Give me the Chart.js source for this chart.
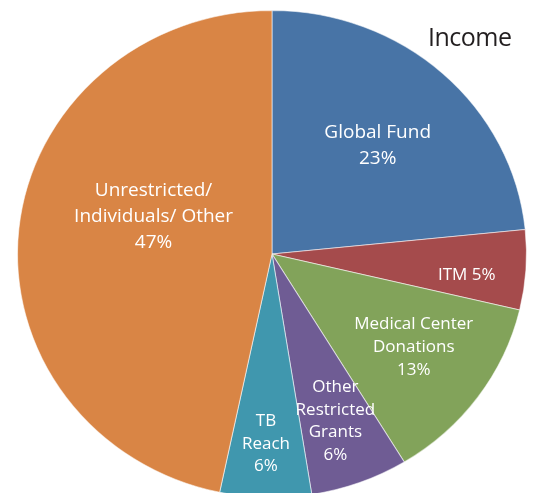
<!DOCTYPE html>
<html>
<head>
<meta charset="utf-8">
<script src="https://cdn.jsdelivr.net/npm/chart.js@4/dist/chart.umd.min.js"></script>
<style>
  html, body { margin: 0; padding: 0; background: #fff; overflow: hidden; }
  #wrap { position: relative; width: 537px; height: 510px; }
  #title {
    position: absolute; left: 428px; top: 19px;
    font: 25px "Open Sans", sans-serif; color: #231f20; letter-spacing: -0.5px;
  }
</style>
</head>
<body>
<div id="wrap">
  <canvas id="c" width="537" height="510"></canvas>
  <div id="title">Income</div>
</div>
<script>
  // данные (доли в %, подписи округлены)
  const categories = ["Global Fund", "ITM", "Medical Center Donations", "Other Restricted Grants", "TB Reach", "Unrestricted/ Individuals/ Other"];
  const values = [23.4, 5.3, 12.6, 6.2, 5.8, 46.7];
  const labelLines = [
    ["Global Fund"],
    null, // ITM на одной строке
    ["Medical Center", "Donations"],
    ["Other", "Restricted", "Grants"],
    ["TB", "Reach"],
    ["Unrestricted/", "Individuals/ Other"],
  ];
  const colors = ["#4874a6", "#a54b4c", "#82a35a", "#6f5c94", "#4097ae", "#d98545"];

  // оформление подписей
  const labelShiftDeg = [0.8, 2.6, -1.6, 0.2, 0.3, 12.3];
  const labelRadius = [0.61, 0.77, 0.675, 0.73, 0.78, 0.49];
  const labelFont = [19, 17, 17, 17, 17, 19];
  const labelLead = [26, 23, 23, 22.6, 22.6, 26];
  const STRETCH_X = 255 / 244; // в оригинале круг чуть вытянут по горизонтали

  const ellipse = {
    id: "ellipse",
    beforeDatasetsDraw(chart) {
      const arc = chart.getDatasetMeta(0).data[0];
      const ctx = chart.ctx;
      ctx.save();
      ctx.translate(arc.x, arc.y);
      ctx.scale(STRETCH_X, 1);
      ctx.translate(-arc.x, -arc.y);
    },
    afterDatasetsDraw(chart) {
      chart.ctx.restore();
    },
  };

  const sliceLabels = {
    id: "sliceLabels",
    afterDraw(chart) {
      const ctx = chart.ctx;
      const meta = chart.getDatasetMeta(0);
      ctx.save();
      ctx.fillStyle = "#ffffff";
      ctx.textAlign = "center";
      ctx.textBaseline = "middle";
      meta.data.forEach((arc, i) => {
        const p = arc.getProps(["x", "y", "startAngle", "endAngle", "outerRadius"], true);
        const mid = (p.startAngle + p.endAngle) / 2 + labelShiftDeg[i] * Math.PI / 180;
        const r = p.outerRadius * labelRadius[i];
        const cx = p.x + Math.cos(mid) * r * STRETCH_X;
        const cy = p.y + Math.sin(mid) * r;
        const pct = Math.round(values[i]) + "%";
        const lines = labelLines[i] ? labelLines[i].concat([pct]) : [categories[i] + " " + pct];
        ctx.font = labelFont[i] + 'px "Open Sans", sans-serif';
        const lh = labelLead[i];
        const top = cy - (lines.length - 1) * lh / 2;
        lines.forEach((t, k) => ctx.fillText(t, cx, top + k * lh));
      });
      ctx.restore();
    },
  };

  new Chart(document.getElementById("c"), {
    type: "pie",
    data: {
      labels: categories,
      datasets: [{
        data: values,
        backgroundColor: colors,
        borderColor: "rgba(255,255,255,0.55)",
        borderWidth: 1,
      }],
    },
    options: {
      responsive: false,
      animation: false,
      layout: { padding: { top: 10, bottom: 12, left: 28, right: 21 } },
      plugins: {
        legend: { display: false },
        tooltip: { enabled: false },
      },
    },
    plugins: [ellipse, sliceLabels],
  });
</script>
</body>
</html>
